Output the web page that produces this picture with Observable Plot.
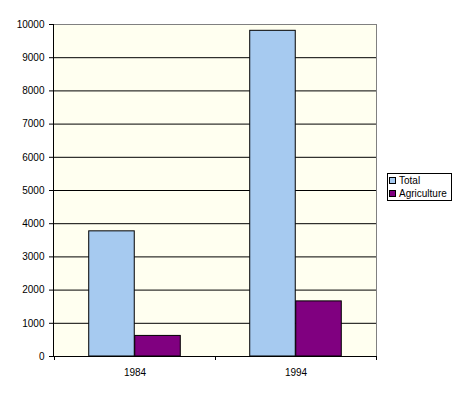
<!DOCTYPE html>
<html>
<head>
<meta charset="utf-8">
<script src="https://cdn.jsdelivr.net/npm/d3@7"></script>
<script src="https://cdn.jsdelivr.net/npm/@observablehq/plot@0.6"></script>
<style>
  body { margin: 0; background: #fff; }
  #wrap { position: relative; width: 462px; height: 396px; }
  .legend { position: absolute; left: 387px; top: 173px; width: 63px; height: 26px; border: 1px solid #000; background: #fff;
    font: 10px "Liberation Sans", Arial, sans-serif; color: #000; }
  .legend .item { height: 13px; display: flex; align-items: center; padding-left: 1px; white-space: nowrap; }
  .legend .sw { width: 5px; height: 5px; border: 1px solid #000; margin-right: 3px; flex: none; }
</style>
</head>
<body>
<div id="wrap"></div>
<script>
// ---- data ----
const years = ["1984", "1994"];
const seriesNames = ["Total", "Agriculture"];
const total = [3770, 9810];
const agriculture = [620, 1660];
const yTicks = [0, 1000, 2000, 3000, 4000, 5000, 6000, 7000, 8000, 9000, 10000];
const seriesColors = ["#A6CAF0", "#800080"];

// ---- layout ----
const W = 462, H = 396, mL = 53, mR = 86, mT = 24, mB = 40;
const step = (W - mL - mR) / years.length;
const barW = step * 0.285;

const rows = years.flatMap((y, i) => [
  {year: y, series: "Total", value: total[i]},
  {year: y, series: "Agriculture", value: agriculture[i]}
]);

const boundaryTicks = (index, {x, y}) => {
  const g = d3.create("svg:g").attr("stroke", "#000").attr("transform", "translate(0.5,0)");
  const dom = x.domain();
  const edges = dom.map(d => x(d)).concat([x(dom[dom.length - 1]) + x.step()]);
  const y0 = Math.round(y(0));
  for (const e of edges) {
    const xe = Math.round(e);
    g.append("line").attr("x1", xe).attr("x2", xe).attr("y1", y0).attr("y2", y0 + 4);
  }
  return g.node();
};

const chart = Plot.plot({
  width: W, height: H,
  marginLeft: mL, marginRight: mR, marginTop: mT, marginBottom: mB,
  style: {fontFamily: '"Liberation Sans", Arial, sans-serif', fontSize: "10px", color: "#000", background: "transparent"},
  x: {domain: years, padding: 0, tickSize: 0, tickPadding: 12, label: null},
  y: {domain: [0, 10000], ticks: yTicks, tickSize: 4, tickPadding: 5, tickFormat: d3.format("d"), label: null},
  color: {domain: seriesNames, range: seriesColors},
  marks: [
    Plot.frame({fill: "#FFFFF0", stroke: "none"}),
    Plot.ruleY(yTicks.filter(t => t > 0 && t < 10000), {stroke: "#000"}),
    Plot.ruleY([10000], {stroke: "#808080"}),
    Plot.frame({anchor: "right", stroke: "#808080"}),
    Plot.barY(rows.filter(d => d.series === "Total"), {x: "year", y: "value", fill: "series", stroke: "#000",
      insetLeft: step / 2 - barW, insetRight: step / 2}),
    Plot.barY(rows.filter(d => d.series === "Agriculture"), {x: "year", y: "value", fill: "series", stroke: "#000",
      insetLeft: step / 2, insetRight: step / 2 - barW}),
    Plot.ruleY([0], {stroke: "#000"}),
    Plot.frame({anchor: "left", stroke: "#000"}),
    boundaryTicks
  ]
});

const wrap = document.getElementById("wrap");
wrap.appendChild(chart);
const legend = document.createElement("div");
legend.className = "legend";
seriesNames.forEach((s, i) => {
  const it = document.createElement("div");
  it.className = "item";
  const sw = document.createElement("span");
  sw.className = "sw";
  sw.style.background = seriesColors[i];
  it.appendChild(sw);
  it.appendChild(document.createTextNode(s));
  legend.appendChild(it);
});
wrap.appendChild(legend);
</script>
</body>
</html>
